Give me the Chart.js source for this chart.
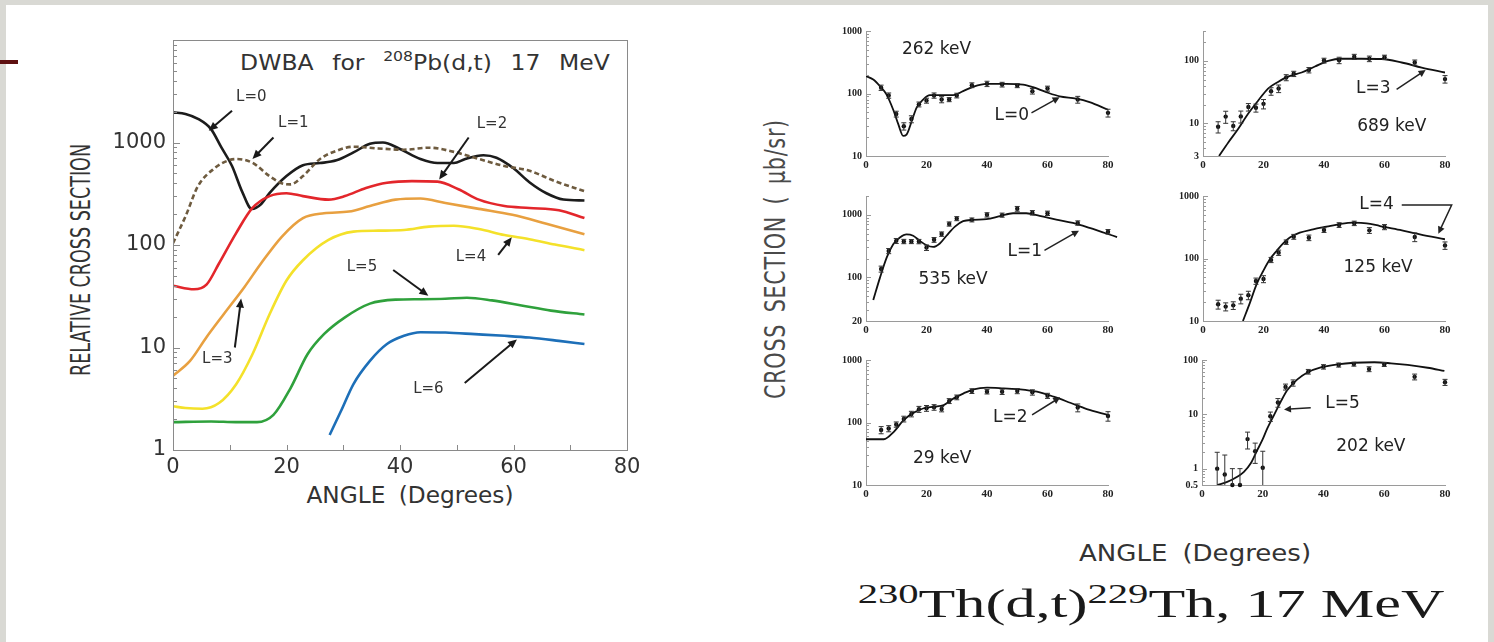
<!DOCTYPE html>
<html>
<head>
<meta charset="utf-8">
<script src="https://cdn.jsdelivr.net/npm/chart.js@4.4.1/dist/chart.umd.min.js"></script>
<style>
  html, body { margin:0; padding:0; }
  body { width:1494px; height:642px; overflow:hidden; background:#d9d9d4; position:relative; font-family:'DejaVu Sans', sans-serif; }
  #sheet { position:absolute; left:6px; top:5px; width:1482px; height:637px; background:#ffffff; }
  #accent { position:absolute; left:0; top:60px; width:18px; height:4px; background:#5e1010; }
  canvas { position:absolute; }
  .lbl { position:absolute; white-space:nowrap; color:#333; line-height:1; transform-origin:50% 50%; font-family:'DejaVu Sans', sans-serif; }
</style>
</head>
<body>
<div id="sheet"></div>
<div id="accent"></div>
<div class="lbl" id="tLeftY" style="font-size:27px;">RELATIVE CROSS SECTION</div>
<div class="lbl" id="tLeftTitle" style="font-size:21px;word-spacing:10px;">DWBA for <span style="font-size:14px;position:relative;top:-9px;">208</span>Pb(d,t) 17 MeV</div>
<div class="lbl" id="tLeftX" style="font-size:23px;word-spacing:6px;">ANGLE (Degrees)</div>
<div class="lbl" id="tRightY" style="font-size:29px;font-weight:normal;color:#4a4a4a;letter-spacing:1px;word-spacing:6px;">CROSS SECTION ( μb/sr)</div>
<div class="lbl" id="tRightX" style="font-size:23px;word-spacing:6px;">ANGLE (Degrees)</div>
<div class="lbl" id="tFormula" style="font-family:'Liberation Serif',serif;font-size:40px;color:#1a1a1a;"><span style="font-size:27px;position:relative;top:-14px;">230</span>Th(d,t)<span style="font-size:27px;position:relative;top:-14px;">229</span>Th, 17 MeV</div>
<script>
// ================= DATA =================
// Left chart: DWBA curves, 208Pb(d,t) 17 MeV (angle in degrees, relative cross section)
const dwbaAngleL0 = [0, 2.2, 4.4, 6.7, 8.5, 10.4, 12.2, 13.9, 15.5, 17, 20, 22.9, 25.9, 28.8, 31.8, 34.7, 37, 39.9, 43.6, 46.6, 49.5, 51.5, 54.7, 57, 60, 62.8, 65.8, 68.8, 72.5];
const dwbaValueL0 = [1970, 1900, 1700, 1350, 900, 590, 330, 225, 250, 320, 470, 600, 630, 670, 800, 970, 1000, 870, 690, 630, 630, 690, 750, 710, 560, 410, 320, 278, 272];
const dwbaAngleL1 = [0, 2.2, 4.4, 7.4, 9.5, 11.1, 14, 17, 19.5, 20.7, 22.9, 25.9, 28.8, 31.8, 36.2, 40.7, 45.1, 49.5, 53.9, 58.4, 62.8, 67.3, 72.5];
const dwbaValueL1 = [104, 190, 375, 565, 660, 690, 635, 470, 395, 390, 470, 690, 830, 910, 875, 850, 890, 810, 690, 590, 530, 420, 335];
const dwbaAngleL2 = [0, 3.7, 5.9, 8.1, 11.1, 14, 17, 20, 22.9, 27.4, 30.3, 34, 37.7, 42.1, 46.6, 50.3, 53.9, 58.4, 62.8, 68, 72.5];
const dwbaValueL2 = [40, 37, 41, 66, 130, 230, 300, 320, 300, 277, 300, 360, 405, 420, 415, 350, 277, 240, 230, 218, 183];
const dwbaAngleL3 = [0, 3, 5.9, 8.9, 12.6, 15.5, 19.2, 22.9, 26.6, 31, 34.7, 39.2, 43.6, 48, 53.9, 59.8, 65.8, 72.5];
const dwbaValueL3 = [5.3, 7.4, 12.6, 21, 39, 66, 121, 183, 204, 212, 240, 277, 284, 257, 225, 197, 161, 127];
const dwbaAngleL4 = [0, 2.2, 5.2, 8.1, 11.1, 14, 17, 20, 22.9, 27.4, 31.8, 36.2, 40.7, 45.1, 49.5, 53.9, 58.4, 62.8, 67.3, 72.5];
const dwbaValueL4 = [2.67, 2.57, 2.53, 2.87, 4.36, 8.6, 21, 45, 71, 112, 135, 138, 140, 151, 154, 143, 125, 114, 101, 89];
const dwbaAngleL5 = [0, 6.7, 11.1, 14.8, 17.7, 20.7, 23.7, 26.6, 30.3, 34.7, 39.2, 43.6, 48, 51.8, 56.2, 61.4, 66.6, 72.5];
const dwbaValueL5 = [1.87, 1.9, 1.87, 1.87, 2.2, 4.0, 8.6, 13.5, 19.7, 26.8, 29.3, 29.6, 29.9, 30.6, 28.8, 25.7, 22.9, 21];
const dwbaAngleL6 = [27.6, 29.6, 31.8, 34.7, 37.7, 40.7, 43.6, 48, 53.2, 58.4, 62.8, 68, 72.5];
const dwbaValueL6 = [1.4, 2.4, 4.4, 7.4, 10.8, 13, 14.1, 14, 13.5, 13, 12.5, 11.6, 10.8];
const leftYTicks = [1, 10, 100, 1000];
const leftXTicks = [0, 20, 40, 60, 80];

// Right panels: 230Th(d,t)229Th 17 MeV, measured angles (degrees)
const expAngles = [5, 7.5, 10, 12.5, 15, 17.5, 20, 22.5, 25, 27.5, 30, 35, 40, 45, 50, 55, 60, 70, 80];
const panelXTicks = [0, 20, 40, 60, 80];
// 262 keV, L=0
const data262 = [124, 93, 47, 30, 39, 67, 77, 93, 80, 80, 93, 136, 143, 139, 134, 109, 120, 80, 49];
const err262  = [12, 9, 5, 4, 5, 6, 7, 9, 9, 6, 8, 12, 14, 12, 10, 11, 11, 10, 7];
const fitAngle262 = [0, 2.4, 4.6, 6.8, 9, 10.7, 12.3, 13.4, 15.1, 16.7, 18.9, 21.1, 24.4, 28.8, 32.1, 35.4, 39.8, 46.4, 51.9, 55.2, 59.6, 64, 69.5, 73.9, 80];
const fitValue262 = [190, 167, 131, 96, 55, 32, 21, 22, 36, 59, 80, 94, 94, 94, 109, 128, 143, 143, 139, 126, 105, 90, 83, 73, 55];
const yTicks262 = [10, 100, 1000];
// 689 keV, L=3
const data689 = [8.8, 12.8, 9.1, 12.9, 18.2, 17.7, 20.5, 32.6, 36, 54, 62, 71, 101, 102, 116, 108, 114, 94, 51];
const err689  = [1.8, 2.8, 1.5, 2.8, 2.5, 2.6, 3.5, 4.5, 5, 6, 6, 7, 9, 12, 11, 11, 9, 9, 7];
const fitAngle689 = [5.3, 8.3, 11.6, 14.9, 18.2, 21.5, 24.8, 28.1, 32.6, 37, 41.4, 45.8, 52.4, 59, 65.7, 72.3, 80];
const fitValue689 = [3.0, 4.9, 8.1, 14.2, 23, 36, 46, 56, 65, 81, 100, 108, 108, 107, 94, 78, 65];
const yTicks689 = [3, 10, 100];
// 535 keV, L=1
const data535 = [136, 264, 383, 375, 374, 374, 299, 398, 492, 714, 870, 830, 1000, 990, 1250, 1080, 1060, 740, 537];
const err535  = [15, 25, 35, 30, 28, 30, 30, 35, 40, 55, 65, 60, 80, 75, 110, 90, 85, 60, 45];
const fitAngle535 = [2.4, 4.6, 6.8, 9, 11.2, 13.4, 15.6, 17.8, 20, 22.2, 24.4, 26.6, 29.4, 32.1, 35.4, 39.8, 44.2, 48.6, 53, 57.4, 62.9, 68.4, 73.9, 83];
const fitValue535 = [43.5, 98, 205, 338, 434, 486, 462, 383, 326, 306, 347, 462, 647, 790, 830, 850, 950, 1060, 1060, 963, 840, 740, 616, 440];
const yTicks535 = [20, 100, 1000];
// 125 keV, L=4
const data125 = [18.5, 17, 17.8, 22.8, 25.9, 43.6, 47, 95, 124, 183, 223, 215, 286, 344, 366, 282, 319, 221, 162];
const err125  = [3, 2.5, 2.5, 4, 4, 5, 6, 9, 12, 15, 20, 22, 25, 30, 30, 30, 30, 35, 22];
const fitAngle125 = [13.2, 15.5, 17.7, 19.9, 22.1, 24.3, 26.5, 28.7, 32, 36.4, 40.8, 45.3, 49.7, 54.1, 58.5, 65.1, 71.7, 80];
const fitValue125 = [10, 19.5, 38.6, 63, 97, 132, 175, 216, 259, 293, 323, 356, 374, 366, 331, 286, 243, 203];
const yTicks125 = [10, 100, 1000];
// 29 keV, L=2
const data29 = [76, 80, 93, 114, 137, 163, 169, 175, 164, 221, 253, 319, 311, 311, 319, 304, 268, 173, 127];
const err29  = [10, 9, 9, 12, 14, 18, 18, 18, 16, 20, 22, 28, 25, 30, 30, 30, 25, 25, 22];
const fitAngle29 = [0, 5.9, 9.2, 12.5, 15.8, 19.1, 22.4, 25.7, 29, 32.3, 35.6, 40, 45.5, 51, 56.5, 62, 67.5, 73, 80];
const fitValue29 = [54, 54, 71, 110, 144, 169, 179, 190, 243, 293, 340, 361, 352, 340, 311, 259, 207, 164, 132];
const yTicks29 = [10, 100, 1000];
// 202 keV, L=5
const data202 = [1.0, 0.78, 0.5, 0.5, 3.5, 2.1, 1.04, 9.2, 16.5, 32, 38, 61, 75, 81, 84, 68, 83, 49, 39];
const err202  = [1.0, 1.0, 0.5, 0.5, 1.2, 0.85, 1.05, 1.8, 3, 4, 5, 6, 7, 7, 7, 7, 7, 6, 5];
const fitAngle202 = [5, 8.3, 11.6, 13.8, 16, 18.2, 19.8, 21.5, 23.7, 25.9, 28.1, 31.4, 34.7, 39.1, 44.6, 50.1, 56.7, 62.2, 67.7, 74.3, 79.8];
const fitValue202 = [0.5, 0.57, 0.71, 0.87, 1.24, 2.2, 3.3, 5.5, 9.7, 17, 28, 44, 59, 73, 83, 89, 91, 87, 81, 72, 63];
const yTicks202 = [0.5, 1, 10, 100];

// ================= HELPERS =================
const pairs = (xa, ya) => xa.map((x, i) => ({ x: x, y: ya[i] }));

const decorPlugin = {
  id: 'decor',
  afterDatasetsDraw(chart, args, o) {
    if (!o || !o.on) return;
    const ctx = chart.ctx, ca = chart.chartArea, xs = chart.scales.x, ys = chart.scales.y;
    ctx.save();
    ctx.strokeStyle = o.axisColor; ctx.lineWidth = 1;
    if (o.box) {
      ctx.strokeRect(Math.round(ca.left) + 0.5, Math.round(ca.top) + 0.5, Math.round(ca.right - ca.left), Math.round(ca.bottom - ca.top));
    }
    if (o.yTickLen) {
      const lo = Math.floor(Math.log10(ys.min)), hi = Math.ceil(Math.log10(ys.max));
      for (let e = lo; e <= hi; e++) {
        for (let m = 1; m <= 9; m++) {
          const v = m * Math.pow(10, e);
          if (v < ys.min * 0.999 || v > ys.max * 1.001) continue;
          const y = Math.round(ys.getPixelForValue(v)) + 0.5;
          const len = m === 1 ? o.yTickLen[0] : o.yTickLen[1];
          ctx.beginPath(); ctx.moveTo(ca.left, y); ctx.lineTo(ca.left + len, y); ctx.stroke();
        }
      }
    }
    if (o.xTickStep) {
      for (let v = xs.min + o.xTickStep; v < xs.max; v += o.xTickStep) {
        const x = Math.round(xs.getPixelForValue(v)) + 0.5;
        ctx.beginPath(); ctx.moveTo(x, ca.bottom); ctx.lineTo(x, ca.bottom - o.xTickLen); ctx.stroke();
      }
    }
    // error bars
    chart.data.datasets.forEach((ds, di) => {
      if (!ds.errors) return;
      const meta = chart.getDatasetMeta(di);
      ctx.save();
      ctx.beginPath(); ctx.rect(ca.left, ca.top - 3, ca.right - ca.left + 4, ca.bottom - ca.top + 3); ctx.clip();
      ctx.strokeStyle = '#333'; ctx.lineWidth = 1;
      meta.data.forEach((pt, i) => {
        const v = ds.data[i].y, e = ds.errors[i];
        const yt = ys.getPixelForValue(v + e);
        const yb = (v - e) > 0 ? ys.getPixelForValue(v - e) : ca.bottom + 10;
        ctx.beginPath();
        ctx.moveTo(pt.x, yt); ctx.lineTo(pt.x, yb);
        ctx.moveTo(pt.x - 2.5, yt); ctx.lineTo(pt.x + 2.5, yt);
        ctx.moveTo(pt.x - 2.5, yb); ctx.lineTo(pt.x + 2.5, yb);
        ctx.stroke();
      });
      ctx.restore();
    });
    // annotations
    if (o.texts) {
      ctx.fillStyle = o.color; ctx.font = o.font; ctx.textAlign = 'center'; ctx.textBaseline = 'middle';
      o.texts.forEach(t => { ctx.fillText(t[2], xs.getPixelForValue(t[0]), ys.getPixelForValue(t[1])); });
    }
    if (o.arrows) {
      ctx.strokeStyle = o.arrowColor; ctx.fillStyle = o.arrowColor; ctx.lineWidth = o.arrowWidth;
      o.arrows.forEach(a => {
        const P = [];
        for (let i = 0; i < a.length; i += 2) P.push([xs.getPixelForValue(a[i]), ys.getPixelForValue(a[i + 1])]);
        const n = P.length;
        const ang = Math.atan2(P[n - 1][1] - P[n - 2][1], P[n - 1][0] - P[n - 2][0]);
        const L = o.head[0], W = o.head[1];
        ctx.beginPath(); ctx.moveTo(P[0][0], P[0][1]);
        for (let i = 1; i < n - 1; i++) ctx.lineTo(P[i][0], P[i][1]);
        ctx.lineTo(P[n - 1][0] - (L - 1) * Math.cos(ang), P[n - 1][1] - (L - 1) * Math.sin(ang));
        ctx.stroke();
        const bx = P[n - 1][0] - L * Math.cos(ang), by = P[n - 1][1] - L * Math.sin(ang);
        ctx.beginPath();
        ctx.moveTo(P[n - 1][0], P[n - 1][1]);
        ctx.lineTo(bx + W * Math.sin(ang), by - W * Math.cos(ang));
        ctx.lineTo(bx - W * Math.sin(ang), by + W * Math.cos(ang));
        ctx.closePath(); ctx.fill();
      });
    }
    ctx.restore();
  }
};
Chart.register(decorPlugin);

function makeChart(rect, pad, cfg) {
  const W = rect.r - rect.l + pad.l + pad.r;
  const H = rect.b - rect.t + pad.t + pad.b;
  const cv = document.createElement('canvas');
  cv.width = W; cv.height = H;
  cv.style.left = (rect.l - pad.l) + 'px';
  cv.style.top = (rect.t - pad.t) + 'px';
  cv.style.width = W + 'px'; cv.style.height = H + 'px';
  document.body.appendChild(cv);
  return new Chart(cv.getContext('2d'), {
    type: 'line',
    data: { datasets: cfg.datasets },
    options: {
      responsive: false, animation: false, devicePixelRatio: 1,
      layout: { padding: { left: 0, top: pad.t, right: pad.r, bottom: 0 } },
      plugins: { legend: { display: false }, tooltip: { enabled: false }, decor: cfg.decor },
      scales: {
        x: {
          type: 'linear', min: 0, max: 80,
          afterBuildTicks: s => { s.ticks = cfg.xTicks.map(v => ({ value: v })); },
          afterFit: s => { s.height = pad.b; },
          grid: { display: false, drawTicks: false },
          border: { display: true, color: cfg.axisColor, width: 1 },
          ticks: { font: cfg.xFont, color: cfg.tickColor, padding: cfg.xPad, maxRotation: 0, autoSkip: false, callback: v => String(v) }
        },
        y: {
          type: 'logarithmic', min: cfg.yMin, max: cfg.yMax,
          afterBuildTicks: s => { s.ticks = cfg.yTicks.map(v => ({ value: v })); },
          afterFit: s => { s.width = pad.l; },
          grid: { display: false, drawTicks: false },
          border: { display: true, color: cfg.axisColor, width: 1 },
          ticks: { font: cfg.yFont, color: cfg.tickColor, padding: cfg.yPad, autoSkip: false, callback: v => String(v) }
        }
      }
    }
  });
}

// ================= LEFT CHART =================
const curve = (xa, ya, color, dash) => ({
  data: pairs(xa, ya), borderColor: color, borderWidth: 2.6, borderDash: dash || [],
  pointRadius: 0, cubicInterpolationMode: 'monotone', fill: false
});
makeChart({ l: 173, r: 627, t: 40, b: 450 }, { l: 133, t: 20, r: 25, b: 75 }, {
  datasets: [
    curve(dwbaAngleL6, dwbaValueL6, '#1d6fb8'),
    curve(dwbaAngleL5, dwbaValueL5, '#2fa13c'),
    curve(dwbaAngleL4, dwbaValueL4, '#f4e12a'),
    curve(dwbaAngleL3, dwbaValueL3, '#e8a040'),
    curve(dwbaAngleL2, dwbaValueL2, '#e3262b'),
    curve(dwbaAngleL1, dwbaValueL1, '#6e5b3f', [5, 3]),
    curve(dwbaAngleL0, dwbaValueL0, '#1c1c1c')
  ],
  yMin: 1, yMax: 10000, yTicks: leftYTicks, xTicks: leftXTicks,
  axisColor: '#8a8a8a', tickColor: '#333',
  xFont: { family: "'DejaVu Sans', sans-serif", size: 21 }, yFont: { family: "'DejaVu Sans', sans-serif", size: 21 },
  xPad: 5, yPad: 7,
  decor: {
    on: true, box: true, axisColor: '#8a8a8a', yTickLen: [7, 4], xTickStep: 10, xTickLen: 5,
    font: "15px 'DejaVu Sans', sans-serif", color: '#333', arrowColor: '#1a1a1a', arrowWidth: 2, head: [9, 4],
    texts: [[13.8, 2760, 'L=0'], [21.2, 1550, 'L=1'], [56.2, 1510, 'L=2'], [7.8, 7.7, 'L=3'], [52.5, 77, 'L=4'], [33.3, 61, 'L=5'], [45, 3.9, 'L=6']],
    arrows: [[10.4, 2040, 6.3, 1300], [17.7, 1120, 14, 690], [52.1, 1120, 46.9, 436], [10.9, 10, 12, 30], [57.3, 80, 59.7, 119], [38.8, 57, 45, 32], [51.4, 4.5, 60.6, 12]]
  }
});

// ================= RIGHT PANELS =================
const panelPad = { l: 48, t: 12, r: 22, b: 24 };
const serifY = { family: "'Liberation Serif', serif", size: 10, weight: 'bold' };
const serifX = { family: "'Liberation Serif', serif", size: 11, weight: 'bold' };
function panel(rect, vals, errs, fitX, fitY, yMin, yMax, yTicks, texts, arrows, clipFit) {
  return makeChart(rect, panelPad, {
    datasets: [
      { data: pairs(fitX, fitY), borderColor: '#111', borderWidth: 1.8, pointRadius: 0, cubicInterpolationMode: 'monotone', fill: false, clip: clipFit ? undefined : false },
      { data: pairs(expAngles, vals), errors: errs, showLine: false, pointRadius: 2.2, pointBackgroundColor: '#111', pointBorderColor: '#111', pointBorderWidth: 0, clip: false }
    ],
    yMin: yMin, yMax: yMax, yTicks: yTicks, xTicks: panelXTicks,
    axisColor: '#9a9a9a', tickColor: '#222', xFont: serifX, yFont: serifY, xPad: 3, yPad: 4,
    decor: {
      on: true, box: false, axisColor: '#9a9a9a', yTickLen: [5, 3],
      font: "17px 'DejaVu Sans', sans-serif", color: '#222', arrowColor: '#222', arrowWidth: 1.5, head: [7, 3.5],
      texts: texts, arrows: arrows
    }
  });
}
panel({ l: 866, r: 1108, t: 31, b: 156 }, data262, err262, fitAngle262, fitValue262, 10, 1000, yTicks262,
  [[23.3, 510, '262 keV'], [48.2, 45, 'L=0']], [[54.7, 49, 64, 87]], true);
panel({ l: 1203, r: 1445, t: 31, b: 156 }, data689, err689, fitAngle689, fitValue689, 3, 300, yTicks689,
  [[56.3, 36, 'L=3'], [62.4, 8.9, '689 keV']], [[64, 35, 73.6, 71]], true);
panel({ l: 866, r: 1108, t: 196, b: 321 }, data535, err535, fitAngle535, fitValue535, 20, 2000, yTicks535,
  [[28.8, 91, '535 keV'], [52.5, 257, 'L=1']], [[59, 270, 70.4, 557]], false);
panel({ l: 1203, r: 1445, t: 196, b: 321 }, data125, err125, fitAngle125, fitValue125, 10, 1000, yTicks125,
  [[57.4, 735, 'L=4'], [57.9, 71, '125 keV']], [[65.7, 718, 82.2, 718, 77.8, 250]], true);
panel({ l: 866, r: 1108, t: 360, b: 485 }, data29, err29, fitAngle29, fitValue29, 10, 1000, yTicks29,
  [[25.2, 26.7, '29 keV'], [47.7, 121, 'L=2']], [[54.9, 132, 64.2, 253]], true);
panel({ l: 1202, r: 1445, t: 360, b: 485 }, data202, err202, fitAngle202, fitValue202, 0.5, 100, yTicks202,
  [[46.3, 15.8, 'L=5'], [55.6, 2.5, '202 keV']], [[35.8, 13.2, 27, 12.3]], true);

// ================= PAGE TEXT =================
function place(id, cx, cy, len, rot) {
  const el = document.getElementById(id);
  const w = el.offsetWidth;
  const k = len ? len / w : 1;
  el.style.left = cx + 'px'; el.style.top = cy + 'px';
  el.style.transform = 'translate(-50%,-50%)' + (rot ? ' rotate(-90deg)' : '') + ' scaleX(' + k + ')';
}
place('tLeftY', 80, 260, 232, true);
place('tLeftTitle', 425, 63, 370, false);
place('tLeftX', 410, 495, 207, false);
place('tRightY', 775, 259, 280, true);
place('tRightX', 1195, 553, 232, false);
place('tFormula', 1151, 604, 587, false);
</script>
</body>
</html>
